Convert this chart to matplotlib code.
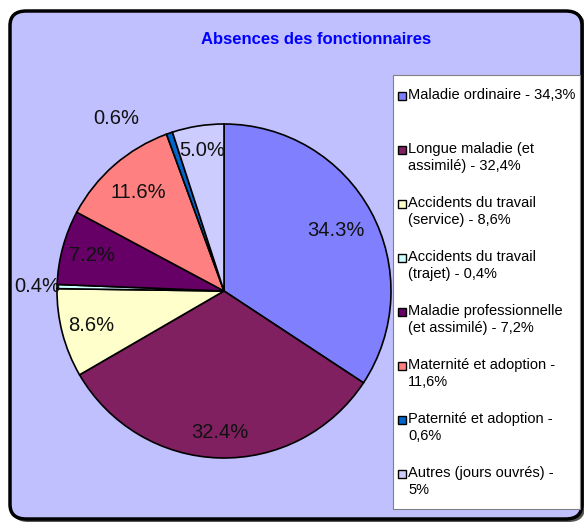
import matplotlib.pyplot as plt
from matplotlib.patches import FancyBboxPatch, Rectangle
import numpy as np

plt.rcParams['font.family'] = ['Liberation Sans', 'DejaVu Sans']

# Données
categories = ['Maladie ordinaire', 'Longue maladie (et\nassimilé)',
              'Accidents du travail\n(service)', 'Accidents du travail\n(trajet)',
              'Maladie professionnelle\n(et assimilé)', 'Maternité et adoption -\n',
              'Paternité et adoption -\n', 'Autres (jours ouvrés) -\n']
values = [34.3, 32.4, 8.6, 0.4, 7.2, 11.6, 0.6, 5.0]
legend_pcts = ['34,3%', '32,4%', '8,6%', '0,4%', '7,2%', '11,6%', '0,6%', '5%']
colors = ['#8080FF', '#802060', '#FFFFCC', '#CCFFFF',
          '#660066', '#FF8080', '#0066CC', '#CCCCFF']
# position des étiquettes : distance au centre (fraction du rayon) et décalage angulaire
label_r = [0.76, 0.845, 0.82, 1.12, 0.82, 0.78, 1.22, 0.85]
label_dang = [0, 0, 0, 0, 0, 0, 13, 0]

W, H = 584, 522
fig = plt.figure(figsize=(W / 100, H / 100), dpi=100)
fig.patch.set_facecolor('white')

def fx(px):
    return px / W

def fy(py):
    return 1 - py / H

# ombre + cadre arrondi
shadow = FancyBboxPatch((fx(12), fy(522)), fx(573), 510 / H,
                        boxstyle='round,pad=0,rounding_size=0.028',
                        transform=fig.transFigure, facecolor='#555555',
                        edgecolor='none', zorder=0)
fig.patches.append(shadow)
frame = FancyBboxPatch((fx(10), fy(519)), fx(572), 508 / H,
                       boxstyle='round,pad=0,rounding_size=0.028',
                       transform=fig.transFigure, facecolor='#C0C0FF',
                       edgecolor='black', linewidth=2.5, zorder=1)
fig.patches.append(frame)

fig.text(fx(316), fy(40), 'Absences des fonctionnaires', color='#0000FF',
         fontsize=12, fontweight='bold', ha='center', va='center')

# camembert
cx, cy, r = 224, 291, 167
ax = fig.add_axes([fx(cx - r), fy(cy + r), 2 * r / W, 2 * r / H])
ax.set_zorder(2)
wedges, _ = ax.pie(values, colors=colors, startangle=90, counterclock=False,
                   wedgeprops=dict(edgecolor='black', linewidth=1.2))
ax.set_aspect('auto')
ax.set_xlim(-1, 1)
ax.set_ylim(-1, 1)
ax.patch.set_visible(False)

for w, v, lr, da in zip(wedges, values, label_r, label_dang):
    ang = np.deg2rad((w.theta1 + w.theta2) / 2 + da)
    ax.text(lr * np.cos(ang), lr * np.sin(ang), f'{v:.1f}%', fontsize=14.5,
            ha='center', va='center', color='#111111', clip_on=False)

# légende
lx0, ly0, lx1, ly1 = 393, 75, 580, 509
fig.patches.append(Rectangle((fx(lx0), fy(ly1)), fx(lx1 - lx0), (ly1 - ly0) / H,
                             transform=fig.transFigure, facecolor='white',
                             edgecolor='#808080', linewidth=0.8, zorder=3))
for i, (cat, pct, col) in enumerate(zip(categories, legend_pcts, colors)):
    ytop = 88 + i * 54
    if cat.endswith('\n'):
        lab = f'{cat}{pct}'
    else:
        lab = f'{cat} - {pct}'
    fig.patches.append(Rectangle((fx(398), fy(ytop + 12)), fx(8), 8 / H,
                                 transform=fig.transFigure, facecolor=col,
                                 edgecolor='black', linewidth=1, zorder=4))
    fig.text(fx(408), fy(ytop), lab, fontsize=10.5, va='top', ha='left',
             linespacing=1.25, zorder=5)

fig.savefig('out.png', dpi=100)
